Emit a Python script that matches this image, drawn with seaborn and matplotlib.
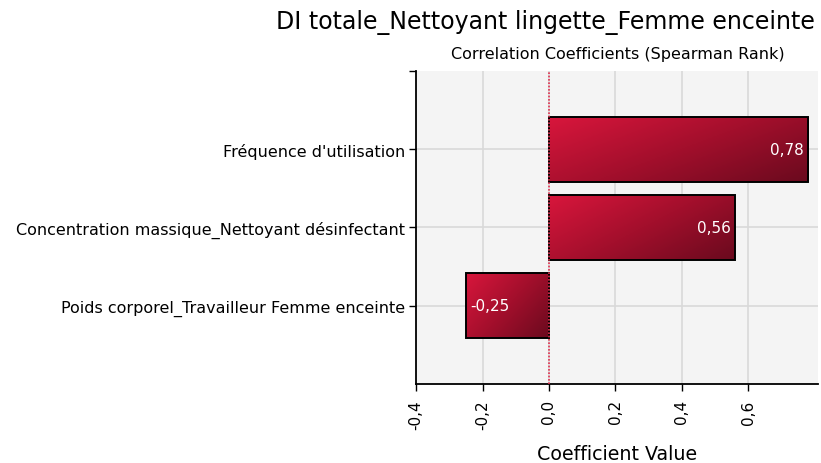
import numpy as np
import pandas as pd
import matplotlib
matplotlib.use("Agg")
import matplotlib.pyplot as plt
import seaborn as sns
from matplotlib.colors import LinearSegmentedColormap
from matplotlib.ticker import FixedLocator, FuncFormatter

# Data
labels = [
    "Fréquence d'utilisation",
    "Concentration massique_Nettoyant désinfectant",
    "Poids corporel_Travailleur Femme enceinte",
]
coefficients = [0.78, 0.56, -0.25]
value_labels = ["0,78", "0,56", "-0,25"]
x_ticks = [-0.4, -0.2, 0.0, 0.2, 0.4, 0.6]

title = "DI totale_Nettoyant lingette_Femme enceinte"
subtitle = "Correlation Coefficients (Spearman Rank)"
x_label = "Coefficient Value"

sns.set_style("white")
plt.rcParams["font.family"] = ["DejaVu Sans"]
plt.rcParams["text.color"] = "black"
plt.rcParams["axes.labelcolor"] = "black"
plt.rcParams["xtick.color"] = "black"
plt.rcParams["ytick.color"] = "black"

df = pd.DataFrame({"label": labels, "coef": coefficients})

fig = plt.figure(figsize=(8.21, 4.64), dpi=100)
ax = fig.add_axes([0.5068, 0.1703, 0.4895, 0.6745])
ax.set_facecolor("#f4f4f4")

sns.barplot(data=df, x="coef", y="label", orient="h", ax=ax,
            color="#b0102e", width=0.83, edgecolor="black", linewidth=1.4,
            zorder=3)

# Gradient fill inside each bar (bright crimson top-left to dark wine bottom-right)
cmap = LinearSegmentedColormap.from_list("wine", ["#d8163c", "#a30f2c", "#6a0a1e"])
gy, gx = np.mgrid[0:1:100j, 0:1:200j]
grad = gx * 0.6 + gy * 0.4
for patch in ax.patches:
    x0, y0 = patch.get_x(), patch.get_y()
    w, h = patch.get_width(), patch.get_height()
    left, right = min(x0, x0 + w), max(x0, x0 + w)
    top, bottom = min(y0, y0 + h), max(y0, y0 + h)
    im = ax.imshow(grad, cmap=cmap, aspect="auto", zorder=3.5, origin="upper",
                   extent=[left, right, bottom, top], interpolation="bilinear")
    im.set_clip_path(patch)
    patch.set_facecolor("none")
    patch.set_zorder(4)

ax.set_xlim(-0.4, 0.81)
ax.set_ylim(3.0, -1.0)

# Value labels inside the bars
for i, (v, txt) in enumerate(zip(coefficients, value_labels)):
    if v >= 0:
        ax.text(v - 0.012, i, txt, color="white", ha="right", va="center",
                fontsize=11, zorder=6)
    else:
        ax.text(v + 0.012, i, txt, color="white", ha="left", va="center",
                fontsize=11, zorder=6)

# Zero reference line
ax.axvline(0, color="#e0304e", linestyle=(0, (1, 1)), linewidth=1.2, zorder=5)

# Ticks and grid
ax.xaxis.set_major_locator(FixedLocator(x_ticks))
ax.xaxis.set_major_formatter(FuncFormatter(lambda v, p: f"{v:.1f}".replace(".", ",")))
ax.yaxis.set_minor_locator(FixedLocator([-1.0]))
ax.grid(True, which="major", color="#d9d9d9", linewidth=1.2, zorder=0)
ax.set_axisbelow(True)

for s in ["top", "right"]:
    ax.spines[s].set_visible(False)
for s in ["left", "bottom"]:
    ax.spines[s].set_color("black")
    ax.spines[s].set_linewidth(1.3)

ax.tick_params(axis="x", which="major", length=5, width=1, color="black",
               labelsize=11, rotation=90, pad=6, bottom=True)
ax.tick_params(axis="y", which="major", length=5, width=1, color="black",
               labelsize=11.5, left=True, pad=3)
ax.tick_params(axis="y", which="minor", length=5, width=1, color="black", left=True)

ax.set_ylabel("")
ax.set_xlabel(x_label, fontsize=13.7, labelpad=11)

fig.text(0.993, 0.938, title, ha="right", va="baseline", fontsize=17)
fig.text(0.752, 0.872, subtitle, ha="center", va="baseline", fontsize=11.5)

fig.savefig("out.png", dpi=100)
